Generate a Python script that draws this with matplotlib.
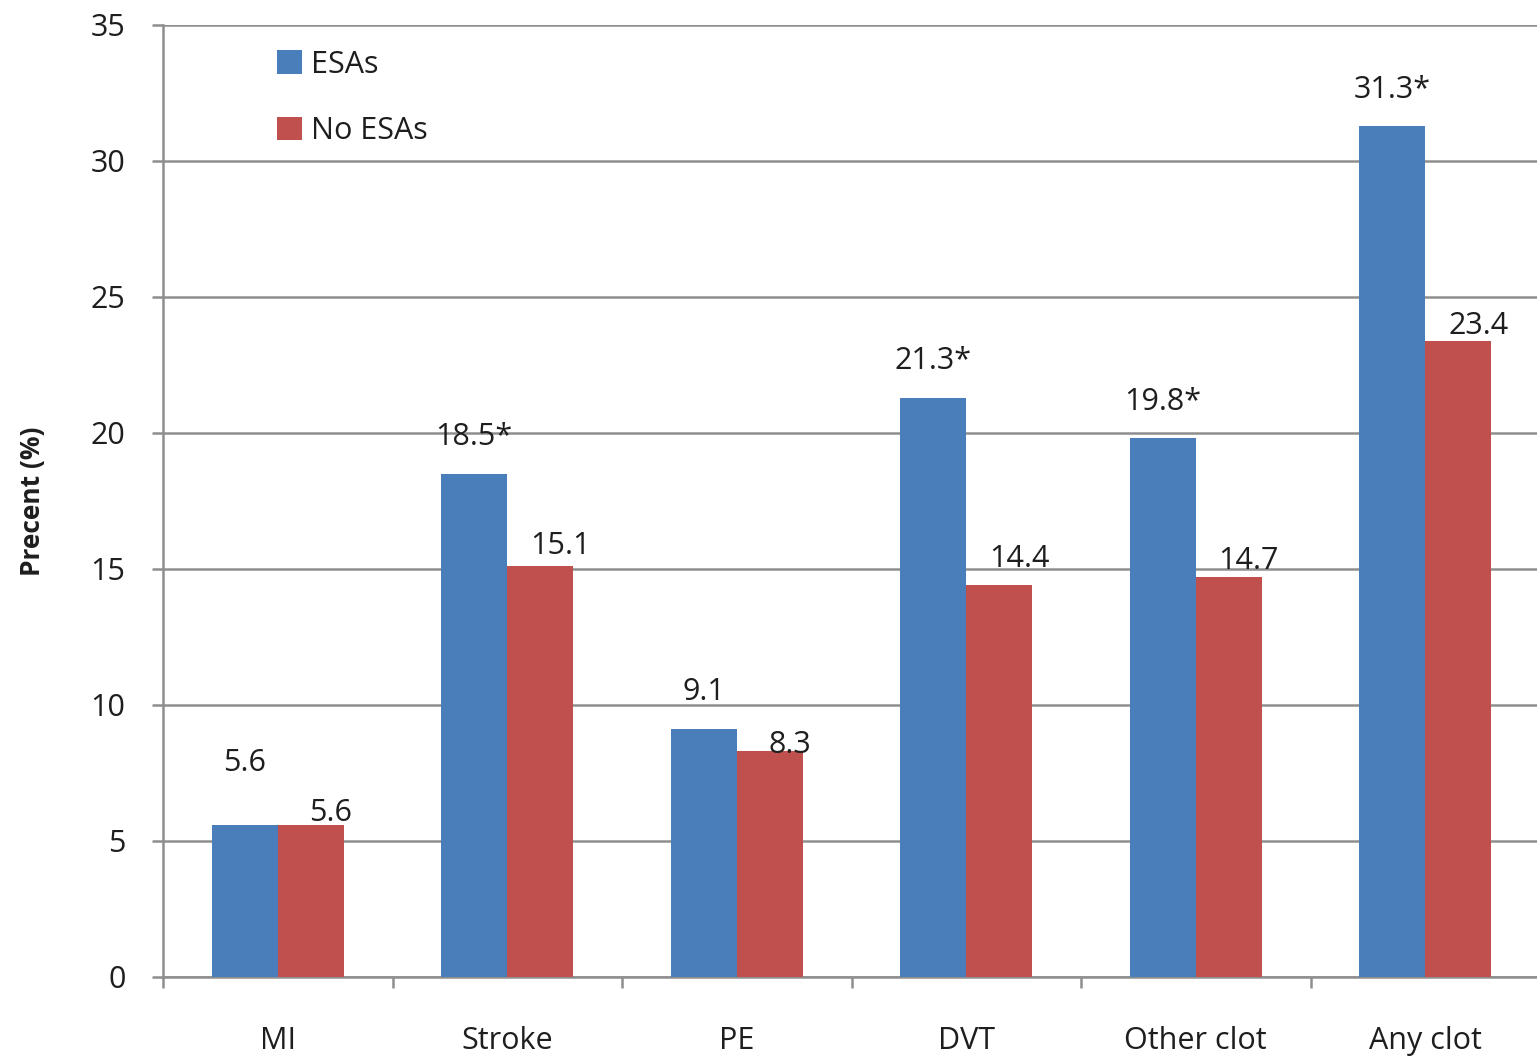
import matplotlib
matplotlib.use("Agg")
import matplotlib.pyplot as plt
import numpy as np
from matplotlib.patches import Patch
from matplotlib.ticker import FixedLocator, MultipleLocator

categories = ["MI", "Stroke", "PE", "DVT", "Other clot", "Any clot"]
esas = [5.6, 18.5, 9.1, 21.3, 19.8, 31.3]
no_esas = [5.6, 15.1, 8.3, 14.4, 14.7, 23.4]
esas_labels = ["5.6", "18.5*", "9.1", "21.3*", "19.8*", "31.3*"]
no_esas_labels = ["5.6", "15.1", "8.3", "14.4", "14.7", "23.4"]

# label placement (pixels above bar top, horizontal shift)
esas_lift = [62, 37, 37, 37, 36, 36]
no_esas_lift = [12, 20, 6, 26, 16, 15]
no_esas_shift = 20

blue = "#4a7ebb"
red = "#c0504d"
grid_gray = "#8e8e8e"
text_col = "#1e1e1e"
fs = 22

plt.rcParams["font.family"] = ["Open Sans", "DejaVu Sans"]

W, H = 1537, 1056
fig = plt.figure(figsize=(W / 100, H / 100), dpi=100)
ax = fig.add_axes([163 / W, (H - 977) / H, 1377 / W, 952 / H])

x = np.arange(len(categories))
bw = 0.288
ax.bar(x - bw / 2, esas, bw, color=blue, zorder=3)
ax.bar(x + bw / 2, no_esas, bw, color=red, zorder=3)

ax.set_xlim(-0.5, len(categories) - 0.5)
ax.set_ylim(0, 35)
ax.yaxis.set_major_locator(MultipleLocator(5))
ax.grid(axis="y", color=grid_gray, linewidth=1.8, zorder=0)
ax.set_axisbelow(True)

for s in ["top", "right"]:
    ax.spines[s].set_visible(False)
for s in ["left", "bottom"]:
    ax.spines[s].set_color(grid_gray)
    ax.spines[s].set_linewidth(1.8)

ax.set_xticks(x)
ax.set_xticklabels(categories)
ax.xaxis.set_minor_locator(FixedLocator(np.arange(-0.5, len(categories), 1.0)))
ax.tick_params(axis="x", which="major", length=0, pad=35.5, labelsize=fs, labelcolor=text_col)
ax.tick_params(axis="x", which="minor", length=8, width=1.8, color=grid_gray, direction="out")
ax.tick_params(axis="y", length=8, width=1.8, color=grid_gray, pad=19, labelsize=fs, labelcolor=text_col)

ax.set_ylabel("Precent (%)", fontsize=19, fontweight="bold", color=text_col, labelpad=32)

for i in range(len(categories)):
    ax.annotate(esas_labels[i], (x[i] - bw / 2, esas[i]), xytext=(0, esas_lift[i]),
                textcoords="offset pixels", ha="center", va="center",
                fontsize=fs, color=text_col, zorder=5)
    ax.annotate(no_esas_labels[i], (x[i] + bw / 2, no_esas[i]), xytext=(no_esas_shift, no_esas_lift[i]),
                textcoords="offset pixels", ha="center", va="center",
                fontsize=fs, color=text_col, zorder=5)

handles = [Patch(facecolor=blue, label="ESAs"), Patch(facecolor=red, label="No ESAs")]
ax.legend(handles=handles, loc="upper left", bbox_to_anchor=(0.083, 0.974),
          frameon=False, fontsize=fs, handlelength=0.8, handleheight=0.8,
          handletextpad=0.3, labelspacing=1.18, borderpad=0, borderaxespad=0,
          labelcolor=text_col)

fig.savefig("out.png", dpi=100)
